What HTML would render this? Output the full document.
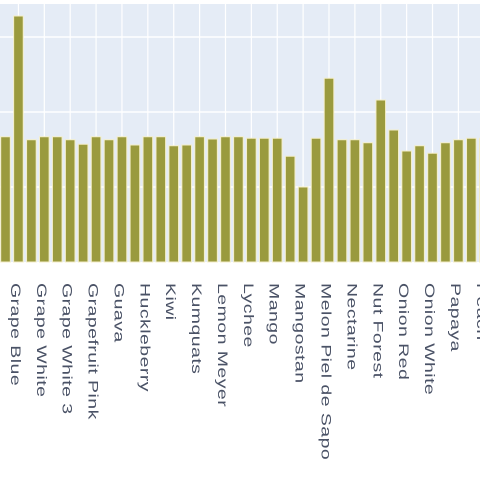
<!DOCTYPE html>
<html><head><meta charset="utf-8"><style>
html,body{margin:0;padding:0;background:#fff;width:480px;height:480px;overflow:hidden}
svg text{font-family:"Liberation Sans",sans-serif;font-size:13px;fill:#4a5266;letter-spacing:0.3px}
</style></head><body>
<svg id="chart" width="480" height="480" xmlns="http://www.w3.org/2000/svg">
<rect x="0" y="4" width="480" height="258" fill="#e5ecf6"/>
<g id="grid"></g><g id="bars"></g><g id="labels"></g>
</svg>
<script>
const categories = ["Granadilla","Grape Blue","Grape Red","Grape White","Grape White 2","Grape White 3","Grapefruit","Grapefruit Pink","Grapefruit White","Guava","Hazelnut","Huckleberry","Jackfruit","Kiwi","Kohlrabi","Kumquats","Lemon","Lemon Meyer","Lime","Lychee","Mandarin","Mango","Mango Red","Mangostan","Maracuja","Melon Piel de Sapo","Mulberry","Nectarine","Nectarine Flat","Nut Forest","Nut Pecan","Onion Red","Onion Red Peeled","Onion White","Orange","Papaya","Passion Fruit","Peach"];
const values = [16.7,32.8,16.3,16.7,16.7,16.3,15.7,16.7,16.3,16.7,15.6,16.7,16.7,15.5,15.6,16.7,16.4,16.7,16.7,16.5,16.5,16.5,14.1,10.0,16.5,24.5,16.3,16.3,15.9,21.6,17.6,14.8,15.5,14.5,15.9,16.3,16.5,16.5];
const yTicks = [0,10,20,30];
const NS="http://www.w3.org/2000/svg";
const base=262, pxPerUnit=7.5, pitch=12.94, x0=5.5, bw=9.6;
const xPos=i=>x0+i*pitch;
const yPos=v=>base-v*pxPerUnit;
const grid=document.getElementById('grid'),bars=document.getElementById('bars'),labels=document.getElementById('labels');
yTicks.forEach(t=>{
  if(t===0)return;
  const l=document.createElementNS(NS,'line');
  l.setAttribute('x1',0);l.setAttribute('x2',480);
  l.setAttribute('y1',yPos(t));l.setAttribute('y2',yPos(t));
  l.setAttribute('stroke','#fff');l.setAttribute('stroke-width','1.5');
  
  
  grid.appendChild(l);
});
categories.forEach((c,i)=>{
  const x=xPos(i);
  if(i%2===1){
    const g=document.createElementNS(NS,'line');
    g.setAttribute('x1',x);g.setAttribute('x2',x);g.setAttribute('y1',4);g.setAttribute('y2',base);
    g.setAttribute('stroke','#fff');g.setAttribute('stroke-width','1.2');
    
    
    grid.appendChild(g);
    const t=document.createElementNS(NS,'text');
    t.setAttribute('transform','translate('+(x-7.5)+',283) rotate(90) scale(1.5,1.05)');
    t.textContent=c;
    
    
    labels.appendChild(t);
  }
  const r=document.createElementNS(NS,'rect');
  const v=values[i];
  r.setAttribute('x',x-bw/2);r.setAttribute('width',bw);
  r.setAttribute('y',yPos(v));r.setAttribute('height',base-yPos(v));
  r.setAttribute('fill','#9a9a3e');r.setAttribute('stroke','#f4eec8');r.setAttribute('stroke-width','1');
  
  
  bars.appendChild(r);
});
</script>
</body></html>
